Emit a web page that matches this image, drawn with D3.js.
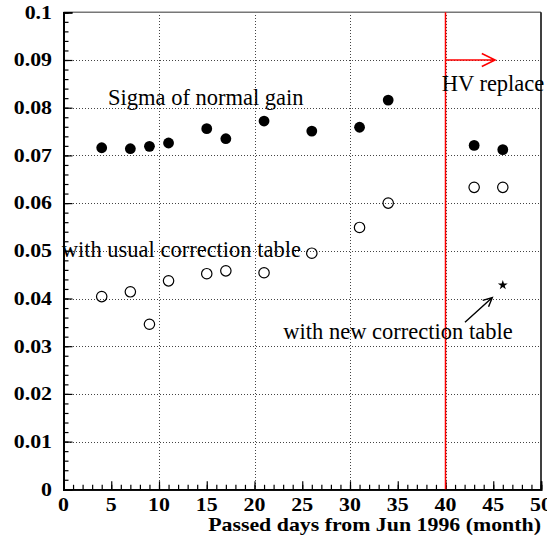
<!DOCTYPE html>
<html>
<head>
<meta charset="utf-8">
<script src="https://cdn.jsdelivr.net/npm/d3@7"></script>
<style>
  html, body { margin: 0; padding: 0; background: #fff; }
  svg { display: block; }
</style>
</head>
<body>
<svg id="chart" width="547" height="541"></svg>
<script>
// Passed months since June 1996
const months = [4, 7, 9, 11, 15, 17, 21, 26, 31, 34, 43, 46];
// Sigma of normal gain (filled circles)
const sigmaNormal = [0.0716, 0.0714, 0.0719, 0.0726, 0.0756, 0.0735, 0.0772, 0.0751, 0.0759, 0.0816, 0.0721, 0.0712];
// Sigma with the usual correction table (open circles)
const sigmaUsual = [0.0404, 0.0414, 0.0346, 0.0437, 0.0452, 0.0458, 0.0454, 0.0495, 0.0549, 0.0600, 0.0633, 0.0633];
// Sigma with the new correction table (star)
const newTableMonth = [46];
const newTableSigma = [0.0428];
// HV replacement month
const hvReplaceMonth = 40;

const xTicks = [0, 5, 10, 15, 20, 25, 30, 35, 40, 45, 50];
const yTicks = [0, 0.01, 0.02, 0.03, 0.04, 0.05, 0.06, 0.07, 0.08, 0.09, 0.1];
const yTickLabels = ["0", "0.01", "0.02", "0.03", "0.04", "0.05", "0.06", "0.07", "0.08", "0.09", "0.1"];

const svg = d3.select("#chart");
const plotLeft = 63.5, plotRight = 541, plotTop = 12.3, plotBottom = 489.3;

const x = d3.scaleLinear().domain([0, 50]).range([plotLeft, plotRight]);
const y = d3.scaleLinear().domain([0, 0.1]).range([plotBottom, plotTop]);

const serif = "'Liberation Serif', 'Times New Roman', serif";
const boldSize = 19;
const boldStretch = 1.15;

// grid
const grid = svg.append("g").attr("stroke", "#444").attr("stroke-width", 1)
  .attr("stroke-dasharray", "1,2").attr("shape-rendering", "crispEdges");
[10, 20, 30, 40].forEach(v => {
  grid.append("line").attr("x1", Math.round(x(v)) + 0.5).attr("x2", Math.round(x(v)) + 0.5)
    .attr("y1", plotTop).attr("y2", plotBottom);
});
yTicks.filter(v => v > 0 && v < 0.1).forEach(v => {
  grid.append("line").attr("x1", plotLeft).attr("x2", plotRight)
    .attr("y1", Math.round(y(v)) + 0.5).attr("y2", Math.round(y(v)) + 0.5);
});

// frame
svg.append("line").attr("x1", plotLeft).attr("x2", plotRight).attr("y1", plotTop).attr("y2", plotTop)
  .attr("stroke", "#777").attr("stroke-width", 1.5);
svg.append("line").attr("x1", plotRight).attr("x2", plotRight).attr("y1", plotTop).attr("y2", plotBottom)
  .attr("stroke", "#000").attr("stroke-width", 1.5);

// axes with inward ticks
const xAxisMajor = d3.axisTop(x).tickValues(xTicks).tickSize(8).tickFormat("");
const xAxisMinor = d3.axisTop(x).tickValues(d3.range(0, 51, 1)).tickSize(4.5).tickFormat("");
const yAxisMajor = d3.axisRight(y).tickValues(yTicks).tickSize(9).tickFormat("");
const yAxisMinor = d3.axisRight(y).tickValues(d3.range(0, 0.1001, 0.002)).tickSize(5).tickFormat("");

function styleAxis(g) {
  g.selectAll("path").attr("stroke", "#000").attr("stroke-width", 1.8);
  g.selectAll("line").attr("stroke", "#000").attr("stroke-width", 1.2);
}
svg.append("g").attr("transform", `translate(0,${plotBottom})`).call(xAxisMinor).call(styleAxis);
svg.append("g").attr("transform", `translate(0,${plotBottom})`).call(xAxisMajor).call(styleAxis);
svg.append("g").attr("transform", `translate(${plotLeft},0)`).call(yAxisMinor).call(styleAxis);
svg.append("g").attr("transform", `translate(${plotLeft},0)`).call(yAxisMajor).call(styleAxis);

// horizontally widened bold labels
function stretch(sel) {
  sel.each(function () {
    const w = this.getComputedTextLength();
    d3.select(this).attr("textLength", w * boldStretch).attr("lengthAdjust", "spacingAndGlyphs");
  });
}

svg.append("g").selectAll("text").data(yTicks).join("text")
  .attr("x", 52).attr("y", d => y(d) + 6.3)
  .attr("text-anchor", "end")
  .attr("font-family", serif).attr("font-weight", "bold").attr("font-size", boldSize)
  .text((d, i) => yTickLabels[i])
  .call(stretch);

svg.append("g").selectAll("text").data(xTicks).join("text")
  .attr("x", d => x(d)).attr("y", 510.5)
  .attr("text-anchor", "middle")
  .attr("font-family", serif).attr("font-weight", "bold").attr("font-size", boldSize)
  .text(d => d)
  .call(stretch);

svg.append("text")
  .attr("x", plotRight).attr("y", 530.5)
  .attr("text-anchor", "end")
  .attr("font-family", serif).attr("font-weight", "bold").attr("font-size", boldSize)
  .text("Passed days from Jun 1996 (month)")
  .call(stretch);

// HV replacement marker
svg.append("line")
  .attr("x1", x(hvReplaceMonth)).attr("x2", x(hvReplaceMonth))
  .attr("y1", plotTop).attr("y2", plotBottom)
  .attr("stroke", "#f00").attr("stroke-width", 1.5);
const arrowY = y(0.09);
svg.append("path")
  .attr("d", `M${x(hvReplaceMonth)},${arrowY}H${x(45.2)}M${x(43.8)},${arrowY - 6.5}L${x(45.2)},${arrowY}L${x(43.8)},${arrowY + 6.5}`)
  .attr("fill", "none").attr("stroke", "#f00").attr("stroke-width", 1.5);

// annotations
const ann = svg.append("g").attr("font-family", serif).attr("font-size", 22.5).attr("fill", "#000");
ann.append("text").attr("x", x(4.66)).attr("y", y(0.0805)).text("Sigma of normal gain");
ann.append("text").attr("x", x(-0.19)).attr("y", y(0.0487)).text("with usual correction table");
ann.append("text").attr("x", x(23.02)).attr("y", y(0.0316)).text("with new correction table");
ann.append("text").attr("x", x(39.6)).attr("y", y(0.0835)).text("HV replace");

// arrow pointing to the new-table point
const ax1 = x(42.04), ay1 = y(0.035), ax2 = x(44.9), ay2 = y(0.0402);
const ang = Math.atan2(ay2 - ay1, ax2 - ax1);
const hl = 10, ha = 0.45;
svg.append("path")
  .attr("d", `M${ax1},${ay1}L${ax2},${ay2}` +
    `M${ax2 - hl * Math.cos(ang - ha)},${ay2 - hl * Math.sin(ang - ha)}L${ax2},${ay2}` +
    `L${ax2 - hl * Math.cos(ang + ha)},${ay2 - hl * Math.sin(ang + ha)}`)
  .attr("fill", "none").attr("stroke", "#000").attr("stroke-width", 1.4);

// points
svg.append("g").selectAll("circle").data(months).join("circle")
  .attr("cx", d => x(d)).attr("cy", (d, i) => y(sigmaNormal[i]))
  .attr("r", 5.4).attr("fill", "#000");

svg.append("g").selectAll("circle").data(months).join("circle")
  .attr("cx", d => x(d)).attr("cy", (d, i) => y(sigmaUsual[i]))
  .attr("r", 5.2).attr("fill", "none").attr("stroke", "#000").attr("stroke-width", 1.2);

svg.append("g").selectAll("path").data(newTableMonth).join("path")
  .attr("transform", (d, i) => `translate(${x(d)},${y(newTableSigma[i])})`)
  .attr("d", d3.symbol(d3.symbolStar, 30))
  .attr("fill", "#000");
</script>
</body>
</html>
